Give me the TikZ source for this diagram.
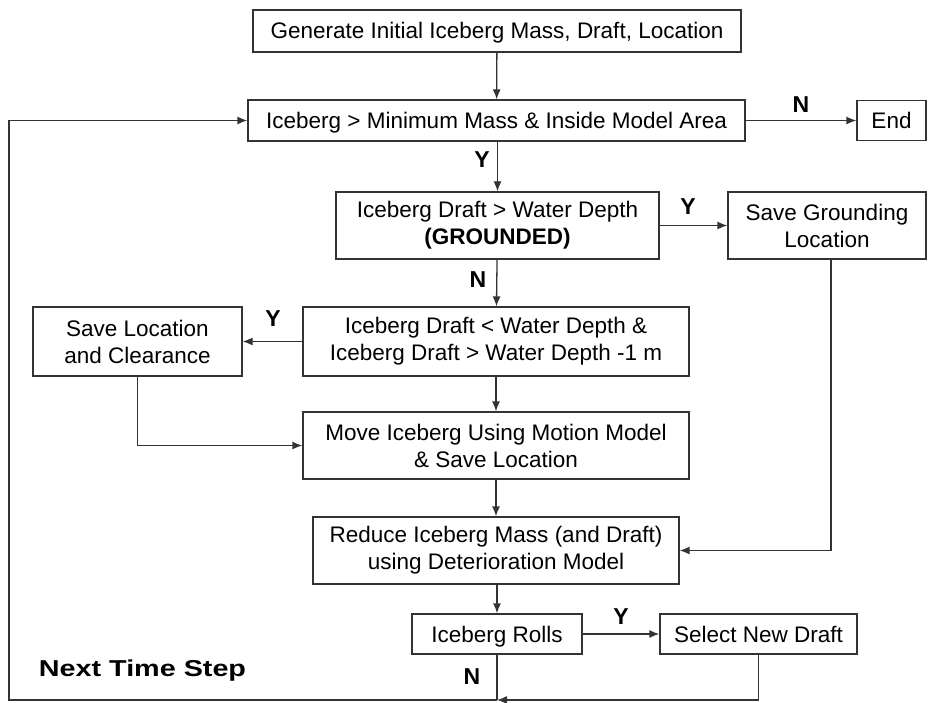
\documentclass[tikz,border=0pt]{standalone}
\usepackage{fontspec}
\setmainfont{Liberation Sans}
\usetikzlibrary{arrows.meta}
\definecolor{linegray}{HTML}{333333}
\begin{document}
\begin{tikzpicture}[x=1pt,y=-1pt,
  box/.style={draw=linegray, line width=1.3pt, inner sep=0pt, align=center,
    font=\fontsize{22.5}{27}\selectfont},
  oneline/.style={text depth=0pt, text height=16pt},
  flow/.style={draw=linegray, line width=1.3pt, -{Latex[length=10pt,width=8pt]}},
  plain/.style={draw=linegray, line width=1.3pt},
  yn/.style={font=\fontsize{23}{27}\selectfont\bfseries, inner sep=0pt}]
\useasboundingbox (0,0) rectangle (928,703);

% process and decision boxes
\node[box, oneline, minimum width=488pt, minimum height=42pt] (gen) at (497,31)
  {Generate Initial Iceberg Mass, Draft, Location};
\node[box, oneline, minimum width=497pt, minimum height=41pt] (cond) at (496.5,120.5)
  {Iceberg > Minimum Mass \& Inside Model Area};
\node[box, oneline, minimum width=69pt, minimum height=40pt] (endb) at (891.5,120.5) {End};
\node[box, minimum width=323pt, minimum height=67pt] (ground) at (497.5,225.5)
  {Iceberg Draft > Water Depth\\\textbf{(GROUNDED)}};
\node[box, minimum width=198pt, minimum height=67pt] (saveg) at (827,225.5)
  {Save Grounding\\Location};
\node[box, minimum width=386pt, minimum height=69pt] (clear) at (496,341.5)
  {Iceberg Draft < Water Depth \&\\Iceberg Draft > Water Depth -1 m};
\node[box, minimum width=209pt, minimum height=69pt] (saveloc) at (137.5,341.5)
  {Save Location\\and Clearance};
\node[box, minimum width=386pt, minimum height=67pt] (move) at (496,445.5)
  {Move Iceberg Using Motion Model\\\& Save Location};
\node[box, minimum width=366pt, minimum height=67pt] (reduce) at (496,550.5)
  {Reduce Iceberg Mass (and Draft)\\using Deterioration Model};
\node[box, oneline, minimum width=170pt, minimum height=40pt] (rolls) at (497,634)
  {Iceberg Rolls};
\node[box, oneline, minimum width=197pt, minimum height=40pt] (newdraft) at (758.5,634)
  {Select New Draft};

% loop label
\node[inner sep=0pt, font=\fontsize{23}{27}\selectfont\bfseries] (nextstep) at (142.5,671)
  {\scalebox{1.25}[1]{Next Time Step}};

% helper points for the return loop
\coordinate (sgdrop) at (831,259);
\coordinate (merge) at (497,700);
\coordinate (corner) at (9,700);

% main flow
\draw[flow] (gen) -- (cond);
\draw[flow] (cond) -- (endb);
\draw[flow] (cond.south -| ground.north) -- (ground);
\draw[flow] (ground) -- (saveg);
\draw[flow] (ground) -- (clear);
\draw[flow] (clear) -- (saveloc);
\draw[flow] (saveloc.south) |- (move.west);
\draw[flow] (clear) -- (move);
\draw[flow] (move) -- (reduce);
\draw[flow] (sgdrop) |- (reduce.east);
\draw[flow] (reduce.south -| rolls.north) -- (rolls);
\draw[flow] (rolls) -- (newdraft);
\draw[plain] (rolls.south) -- (merge);
\draw[flow] (newdraft.south) |- (merge);
\draw[flow] (merge) -- (corner) |- (cond.west);

% branch labels
\node[yn] (lbn1) at (801,105) {N};
\node[yn] (lby1) at (482,160) {Y};
\node[yn] (lby2) at (688,207) {Y};
\node[yn] (lbn2) at (478,280) {N};
\node[yn] (lby3) at (273,319) {Y};
\node[yn] (lby4) at (621,617) {Y};
\node[yn] (lbn3) at (472,677) {N};
\end{tikzpicture}
\end{document}
